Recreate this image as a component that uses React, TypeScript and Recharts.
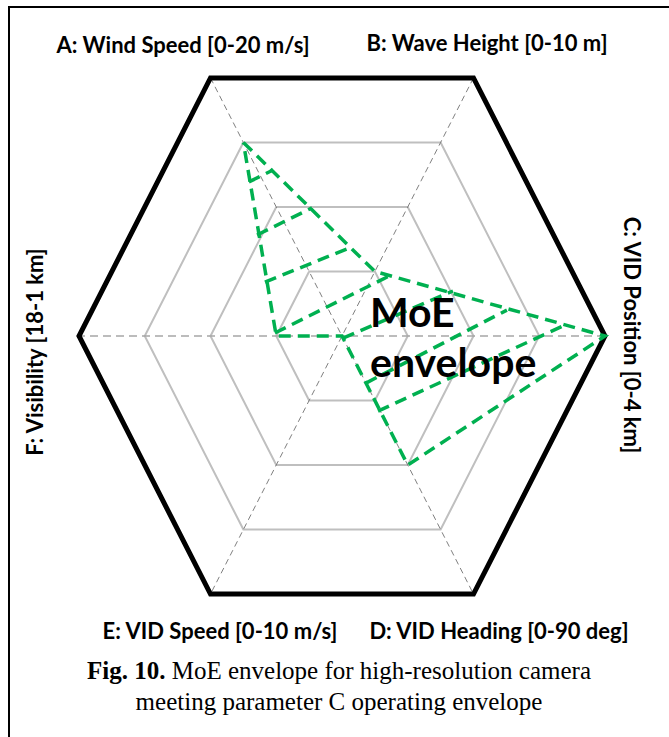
import React from 'react';
import { LineChart, Line, XAxis, YAxis } from 'recharts';

// six spokes of the hexagon, clockwise from upper left
const axisLabels = [
  'A: Wind Speed [0-20 m/s]',
  'B: Wave Height [0-10 m]',
  'C: VID Position [0-4 km]',
  'D: VID Heading [0-90 deg]',
  'E: VID Speed [0-10 m/s]',
  'F: Visibility [18-1 km]',
];
const axisAngles = [120, 60, 0, -60, -120, 180];
const axisFrom = [0, 0, 0, 0, 0, 18];
const axisTo = [20, 10, 4, 90, 10, 1];
const gridLevels = [0.25, 0.5, 0.75];
const spokePairs = [[0, 3], [1, 4], [2, 5]];

// MoE envelope in axis units (A..F)
const envelopeValues = [15, 2.5, 4, 45, 0, 13.75];

// dashed strokes drawn across the inside of the envelope, [x, y] in radius units
const hatchLines = [
  [[-0.354, 0.517], [-0.262, 0.557]],
  [[-0.323, 0.339], [-0.114, 0.43]],
  [[-0.293, 0.181], [0.038, 0.299]],
  [[-0.255, 0.01], [0.194, 0.208]],
  [[0.004, -0.007], [0.422, 0.151]],
  [[0.091, -0.158], [0.627, 0.087]],
  [[0.137, -0.252], [0.848, 0.037]],
];

const GREEN = '#00B050';

const toPoint = (frac: number, angle: number) => ({
  x: frac * Math.cos((angle * Math.PI) / 180),
  y: frac * Math.sin((angle * Math.PI) / 180),
});

const ring = (frac: number) => axisAngles.map((a) => toPoint(frac, a)).concat(toPoint(frac, axisAngles[0]));
// outer frame goes round one extra edge so every corner gets a proper join
const outer = axisAngles.concat(axisAngles.slice(0, 2)).map((a) => toPoint(1, a));
const envelope = envelopeValues.map((v, i) =>
  toPoint((v - axisFrom[i]) / (axisTo[i] - axisFrom[i]), axisAngles[i])
);
envelope.push(envelope[0]);

const App: React.FC = () => {
  return (
    <div
      style={{
        position: 'absolute',
        left: 8,
        top: 6,
        width: 659,
        height: 731,
        borderLeft: '2px solid #000',
        borderTop: '2px solid #000',
        background: '#fff',
      }}
    >
      <div style={{ position: 'absolute', left: 0, top: 0 }}>
        <LineChart width={631.3} height={636} margin={{ top: 30, left: 42.7, right: 10, bottom: 10 }}>
          <XAxis type="number" dataKey="x" domain={[-1.1, 1.1]} hide allowDataOverflow />
          <YAxis type="number" dataKey="y" domain={[-1, 1]} hide allowDataOverflow />
          {gridLevels.map((g) => (
            <Line
              key={'g' + g}
              data={ring(g)}
              dataKey="y"
              type="linear"
              dot={false}
              stroke="#BFBFBF"
              strokeWidth={2}
              isAnimationActive={false}
            />
          ))}
          {spokePairs.map(([a, b], i) => (
            <Line
              key={'s' + i}
              data={[toPoint(1, axisAngles[a]), toPoint(1, axisAngles[b])]}
              dataKey="y"
              type="linear"
              dot={false}
              stroke={i === 2 ? '#A6A6A6' : '#808080'}
              strokeWidth={i === 2 ? 1.5 : 1}
              strokeDasharray={i === 2 ? '8 5' : '6 4'}
              isAnimationActive={false}
            />
          ))}
          <Line
            data={outer}
            dataKey="y"
            type="linear"
            dot={false}
            stroke="#000"
            strokeWidth={5}
            strokeLinejoin="miter"
            isAnimationActive={false}
          />
          <Line
            data={envelope}
            dataKey="y"
            type="linear"
            dot={false}
            stroke={GREEN}
            strokeWidth={3.5}
            strokeDasharray="12 7"
            isAnimationActive={false}
          />
          {hatchLines.map((h, i) => (
            <Line
              key={'h' + i}
              data={h.map(([x, y]) => ({ x, y }))}
              dataKey="y"
              type="linear"
              dot={false}
              stroke={GREEN}
              strokeWidth={3.5}
              strokeDasharray="12 7"
              isAnimationActive={false}
            />
          ))}
        </LineChart>
      </div>
      <svg
        width={659}
        height={729}
        style={{ position: 'absolute', left: 0, top: 0, pointerEvents: 'none' }}
        fontFamily="Lato, 'Open Sans', sans-serif"
        fontWeight="bold"
      >
        <g fontSize={22} textAnchor="middle">
          <text x={173} y={45}>{axisLabels[0]}</text>
          <text x={477} y={43}>{axisLabels[1]}</text>
          <text x={614} y={327} transform="rotate(90 614 327)">{axisLabels[2]}</text>
          <text x={489} y={631}>{axisLabels[3]}</text>
          <text x={210} y={631}>{axisLabels[4]}</text>
          <text x={33} y={344} transform="rotate(-90 33 344)">{axisLabels[5]}</text>
        </g>
        <text x={360} y={319} fontSize={41}>MoE</text>
        <text x={360} y={369} fontSize={41}>envelope</text>
        <g fontFamily="'Liberation Serif', 'Times New Roman', serif" fontWeight="normal" fontSize={25} textAnchor="middle">
          <text x={329} y={671}>
            <tspan fontWeight="bold">Fig. 10.</tspan> MoE envelope for high-resolution camera
          </text>
          <text x={329} y={702}>meeting parameter C operating envelope</text>
        </g>
      </svg>
    </div>
  );
};

export default App;
